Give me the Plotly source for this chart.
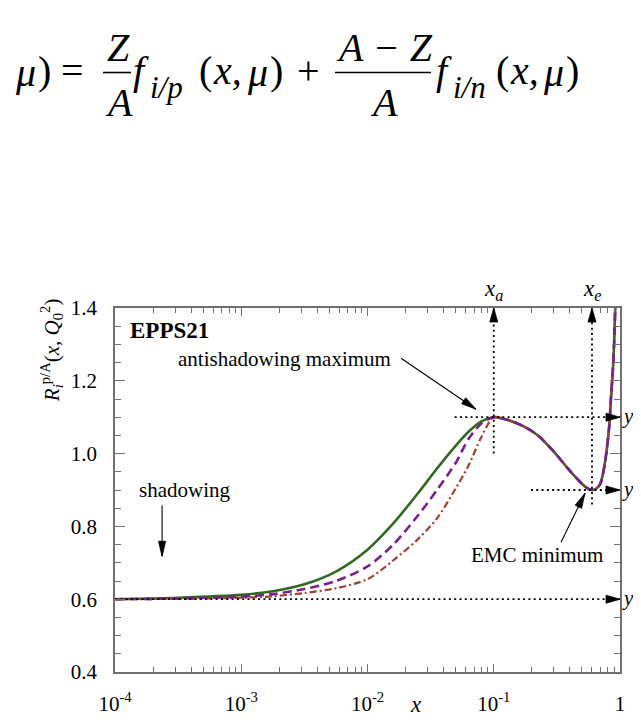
import math
import plotly.graph_objects as go

# ---------------- data ----------------
X_LOW = [1e-4, 3.16e-4, 1e-3, 1.78e-3, 3.16e-3, 5.62e-3, 0.01, 0.0158, 0.0251, 0.0355, 0.0501, 0.0631, 0.0794, 0.1]
GREEN_LOW = [0.600, 0.604, 0.612, 0.622, 0.641, 0.676, 0.736, 0.806, 0.891, 0.959, 1.022, 1.060, 1.088, 1.100]
PURPLE_LOW = [0.600, 0.602, 0.607, 0.614, 0.628, 0.650, 0.690, 0.748, 0.830, 0.900, 0.975, 1.040, 1.082, 1.100]
BROWN_LOW = [0.600, 0.601, 0.604, 0.608, 0.617, 0.630, 0.655, 0.705, 0.765, 0.822, 0.905, 0.967, 1.044, 1.100]
X_HIGH = [0.13, 0.17, 0.224, 0.3, 0.4, 0.49, 0.55, 0.6, 0.65, 0.7, 0.76, 0.82, 0.85, 0.875, 0.9, 0.92]
R_HIGH = [1.092, 1.076, 1.050, 1.005, 0.953, 0.920, 0.905, 0.900, 0.904, 0.918, 0.975, 1.072, 1.158, 1.22, 1.31, 1.42]

XA, XE = 0.1, 0.6
YA, YE, Y0 = 1.1, 0.9, 0.6
XA_DOT_FROM, XE_DOT_FROM = 1.0, 0.86
YA_DOT_FROM, YE_DOT_FROM, Y0_DOT_FROM = 0.049, 0.197, 1e-4

X_MIN, X_MAX = 1e-4, 1.0
Y_MIN, Y_MAX = 0.4, 1.4
X_TICKS = [1e-4, 1e-3, 1e-2, 1e-1, 1]
X_TICK_TEXT = ["10<sup>-4</sup>", "10<sup>-3</sup>", "10<sup>-2</sup>", "10<sup>-1</sup>", "1"]
Y_TICKS = [0.4, 0.6, 0.8, 1.0, 1.2, 1.4]
Y_TICK_TEXT = ["0.4", "0.6", "0.8", "1.0", "1.2", "1.4"]
X_MINOR = [m * 10 ** e for e in range(-4, 0) for m in range(2, 10)]

# annotation arrows: tip position (data) and tail offset (pixels, y up)
ANTI_TIP = (0.0724, 1.122)
ANTI_TAIL = (-75, 51)
EMC_TIP = (0.528, 0.891)
EMC_TAIL = (-24, -49)
SHADOW_TIP = (2.36e-4, 0.718)
SHADOW_TAIL = (0, 51)

# ---------------- layout geometry ----------------
W, H = 641, 720
L, R, T, B = 107, 29, 300, 49
PW = W - L - R
PH = H - T - B

SERIF = "Liberation Serif"
AXC = "#707070"
UP = '<span style="font-style:normal">{}</span>'

fig = go.Figure()
x_all = X_LOW + X_HIGH
series = [
    (GREEN_LOW, "#2f6b1f", "solid", 2.6),
    (BROWN_LOW, "#a3402e", "7px,3px,2px,3px", 2.2),
    (PURPLE_LOW, "#7a1f8e", "9px,5px", 2.6),
]
for ylow, color, dash, width in series:
    fig.add_trace(go.Scatter(
        x=x_all, y=ylow + R_HIGH, mode="lines",
        line=dict(color=color, dash=dash, width=width, shape="spline", smoothing=0.8),
        showlegend=False, hoverinfo="skip"))

DOT = dict(color="black", width=1.8, dash="2px,3.3px")
for xs, ys in [
    ([XA, XA], [XA_DOT_FROM, Y_MAX]),
    ([XE, XE], [XE_DOT_FROM, Y_MAX]),
    ([YA_DOT_FROM, X_MAX], [YA, YA]),
    ([YE_DOT_FROM, X_MAX], [YE, YE]),
    ([Y0_DOT_FROM, X_MAX], [Y0, Y0]),
]:
    fig.add_trace(go.Scatter(x=xs, y=ys, mode="lines", line=DOT,
                             showlegend=False, hoverinfo="skip"))

shapes = []


def head(xa, ya, ux, uy, length=14, half=4):
    n = math.hypot(ux, uy)
    ux, uy = ux / n, uy / n
    bx, by = -ux * length, -uy * length
    qx, qy = -uy * half, ux * half
    path = "M0,0 L{:.2f},{:.2f} L{:.2f},{:.2f} Z".format(bx + qx, by + qy, bx - qx, by - qy)
    return dict(type="path", xref="x", yref="y", xsizemode="pixel", ysizemode="pixel",
                xanchor=xa, yanchor=ya, path=path, fillcolor="black",
                line=dict(color="black", width=0.8), layer="above")


def arrow(tip, tail, length=15, half=3.6):
    xa, ya = tip
    dx, dy = tail
    shapes.append(dict(type="path", xref="x", yref="y", xsizemode="pixel", ysizemode="pixel",
                       xanchor=xa, yanchor=ya, path="M0,0 L{},{}".format(dx, dy),
                       line=dict(color="black", width=1.1), layer="above"))
    shapes.append(head(xa, ya, -dx, -dy, length, half))


shapes.append(head(XA, Y_MAX, 0, 1))
shapes.append(head(XE, Y_MAX, 0, 1))
shapes.append(head(X_MAX, YA, 1, 0))
shapes.append(head(X_MAX, YE, 1, 0))
shapes.append(head(X_MAX, Y0, 1, 0))

arrow(ANTI_TIP, ANTI_TAIL)
arrow(EMC_TIP, EMC_TAIL)
arrow(SHADOW_TIP, SHADOW_TAIL)


def px_x(px):
    return (px - L) / PW


def px_y(py):
    return (H - B - py) / PH


BAR_Y = 60
for x0, x1 in [(95, 123), (327, 423)]:
    shapes.append(dict(type="line", xref="paper", yref="paper",
                       x0=px_x(x0), x1=px_x(x1), y0=px_y(BAR_Y), y1=px_y(BAR_Y),
                       line=dict(color="black", width=1.6)))

ann = []


def text(t, x, y, size, xanchor="center", yanchor="middle", xref="x", yref="y",
         italic=False, **kw):
    font = dict(family=SERIF, size=size, color="black")
    if italic:
        font["style"] = "italic"
    d = dict(text=t, x=x, y=y, xref=xref, yref=yref, showarrow=False,
             xanchor=xanchor, yanchor=yanchor, font=font)
    d.update(kw)
    ann.append(d)


# formula (top), pieces: text, x-pixel, y-pixel, anchor, italic, size
FS = 40
SUB = 31
ROW = 58
for t, px, py, xa, it, fs in [
    ("μ", 5, ROW + 2, "left", True, FS),
    (")", 28, ROW, "left", False, FS),
    ("=", 64, ROW, "center", False, FS),
    ("Z", 110, BAR_Y - 26, "center", True, FS),
    ("A", 111, BAR_Y + 31, "center", True, FS),
    ("f", 123, ROW, "left", True, FS),
    ("i/p", 140, ROW + 17, "left", True, SUB),
    ("(", 189, ROW, "left", False, FS),
    ("x,", 203, ROW, "left", True, FS),
    ("μ", 237, ROW + 2, "left", True, FS),
    (")", 260, ROW, "left", False, FS),
    ("+", 300, ROW, "center", False, FS),
    ("A − Z", 376, BAR_Y - 26, "center", True, FS),
    ("A", 376, BAR_Y + 31, "center", True, FS),
    ("f", 426, ROW, "left", True, FS),
    ("i/n", 443, ROW + 17, "left", True, SUB),
    ("(", 486, ROW, "left", False, FS),
    ("x,", 500, ROW, "left", True, FS),
    ("μ", 533, ROW + 2, "left", True, FS),
    (")", 556, ROW, "left", False, FS),
]:
    text(t, px_x(px), px_y(py), fs, xanchor=xa, xref="paper", yref="paper", italic=it)

# in-plot labels
text("<b>EPPS21</b>", math.log10(1.27e-4), 1.338, 23, xanchor="left")
text("antishadowing maximum", math.log10(0.0159), 1.26, 21, xanchor="right")
text("EMC minimum", math.log10(0.22), 0.721, 21)
text("shadowing", math.log10(3.57e-4), 0.901, 21)

# frame labels
text("x<sub>a</sub>", math.log10(XA), 1.0, 23, yref="paper", yanchor="bottom", yshift=2, italic=True)
text("x<sub>e</sub>", math.log10(XE), 1.0, 23, yref="paper", yanchor="bottom", yshift=2, italic=True)
text("y<sub>a</sub>", 1.0, YA, 21, xref="paper", xanchor="left", xshift=1, italic=True, borderpad=0)
text("y<sub>e</sub>", 1.0, YE, 21, xref="paper", xanchor="left", xshift=1, italic=True, borderpad=0)
text("y<sub>" + UP.format("0") + "</sub>", 1.0, Y0, 21, xref="paper", xanchor="left", xshift=1,
     italic=True, borderpad=0)

# axis titles
text("x", px_x(408), px_y(704), 23, xref="paper", yref="paper", italic=True, borderpad=0)
ylab = ("R<sub>i</sub><sup>" + UP.format("p/A") + "</sup>" + UP.format("(") + "x" + UP.format(",")
        + " Q<sub>" + UP.format("0") + "</sub><sup>" + UP.format("2") + "</sup>" + UP.format(")"))
text(ylab, px_x(43), px_y(343), 21, xref="paper", yref="paper", textangle=-90, italic=True)

fig.update_xaxes(
    type="log", range=[math.log10(X_MIN), math.log10(X_MAX)],
    tickmode="array", tickvals=X_TICKS, ticktext=X_TICK_TEXT,
    ticks="inside", ticklen=8, tickwidth=1.2, tickcolor=AXC,
    showline=True, linecolor=AXC, linewidth=1.5, mirror="ticks",
    showgrid=False, zeroline=False, ticklabelstandoff=12,
    tickfont=dict(family=SERIF, size=21, color="black"),
    minor=dict(tickmode="array", tickvals=X_MINOR, ticks="inside", ticklen=5,
               tickwidth=1.1, tickcolor=AXC, showgrid=False),
)
fig.update_yaxes(
    range=[Y_MIN, Y_MAX], tickmode="array", tickvals=Y_TICKS, ticktext=Y_TICK_TEXT,
    ticks="inside", ticklen=10, tickwidth=1.2, tickcolor=AXC,
    showline=True, linecolor=AXC, linewidth=1.5, mirror="ticks",
    showgrid=False, zeroline=False, ticklabelstandoff=12,
    tickfont=dict(family=SERIF, size=21, color="black"),
    minor=dict(dtick=0.05, ticks="inside", ticklen=6, tickwidth=1.1,
               tickcolor=AXC, showgrid=False),
)

fig.update_layout(
    width=W, height=H, autosize=False,
    margin=dict(l=L, r=R, t=T, b=B, pad=0),
    paper_bgcolor="white", plot_bgcolor="white",
    shapes=shapes, annotations=ann, showlegend=False,
)

fig.write_html("out.html")
